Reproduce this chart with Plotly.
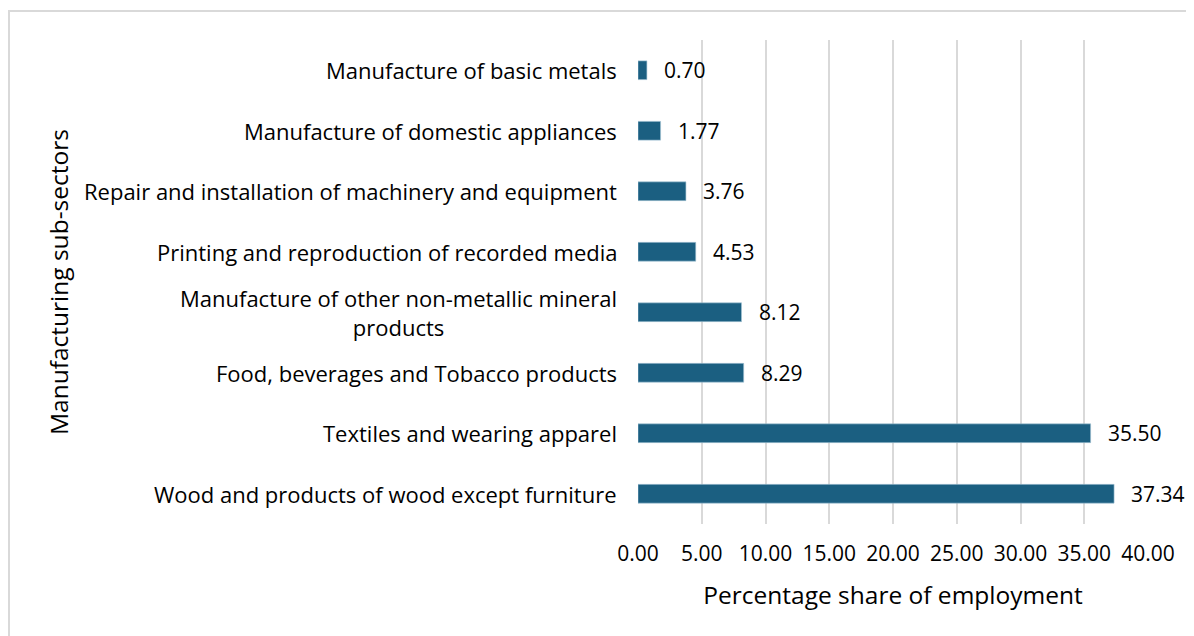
import plotly.graph_objects as go

categories = [
    "Wood and products of wood except furniture",
    "Textiles and wearing apparel",
    "Food, beverages and Tobacco products",
    "Manufacture of other non-metallic mineral<br>products",
    "Printing and reproduction of recorded media",
    "Repair and installation of machinery and equipment",
    "Manufacture of domestic appliances",
    "Manufacture of basic metals",
]
values = [37.34, 35.50, 8.29, 8.12, 4.53, 3.76, 1.77, 0.70]
tick_vals = [0, 5, 10, 15, 20, 25, 30, 35, 40]
tick_text = ["0.00", "5.00", "10.00", "15.00", "20.00", "25.00", "30.00", "35.00", "40.00"]

FONT = "Open Sans"
BAR = "#1b5f81"

W, H = 1194, 636
L, T = 630, 32
pw, ph = 510, 484
R = W - L - pw
B = H - T - ph

fig = go.Figure()
fig.add_trace(go.Bar(
    x=values, y=categories, orientation="h",
    marker=dict(color=BAR, line=dict(color="#a9c8d8", width=0.6)),
    width=0.31, hoverinfo="x+y",
))

annotations = []
for c, v in zip(categories, values):
    annotations.append(dict(x=v, y=c, xref="x", yref="y", text=f"{v:.2f}",
                            showarrow=False, xanchor="left", xshift=15,
                            font=dict(family=FONT, size=21, color="#000")))
    annotations.append(dict(x=0, y=c, xref="paper", yref="y", text=c,
                            showarrow=False, xanchor="right", xshift=-19, align="center",
                            font=dict(family=FONT, size=22, color="#000")))
annotations.append(dict(x=(50 - L) / pw, y=0.5, xref="paper", yref="paper",
                        text="Manufacturing sub-sectors", textangle=-90, showarrow=False,
                        xanchor="center", yanchor="middle",
                        font=dict(family=FONT, size=24.5, color="#000")))

fig.update_layout(
    width=W, height=H,
    margin=dict(l=L, r=R, t=T, b=B),
    paper_bgcolor="white", plot_bgcolor="white",
    showlegend=False,
    font=dict(family=FONT, size=21, color="#000"),
    annotations=annotations,
    xaxis=dict(range=[0, 40], tickvals=tick_vals, ticktext=tick_text,
               showgrid=True, gridcolor="#d9d9d9", gridwidth=2,
               zeroline=False, showline=False, ticks="",
               ticklabelstandoff=15,
               title=dict(text="Percentage share of employment", standoff=20,
                          font=dict(family=FONT, size=24.5, color="#000")),
               tickfont=dict(family=FONT, size=21, color="#000")),
    yaxis=dict(showticklabels=False, showgrid=False, zeroline=False, showline=False,
               ticks="", range=[-0.5, 7.5]),
    shapes=[dict(type="rect", xref="paper", yref="paper",
                 x0=(1 - L) / pw, x1=(1300 - L) / pw,
                 y0=-(800 - T - ph) / ph, y1=1 + (T - 3) / ph,
                 line=dict(color="#d9d9d9", width=2), fillcolor="rgba(0,0,0,0)",
                 layer="below")],
)

fig.write_html("out.html")
